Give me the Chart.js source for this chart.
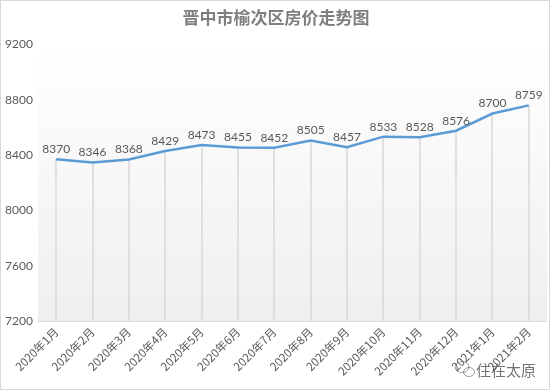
<!DOCTYPE html>
<html>
<head>
<meta charset="utf-8">
<script src="https://cdn.jsdelivr.net/npm/chart.js@4/dist/chart.umd.min.js"></script>
<style>
  html, body { margin: 0; padding: 0; background: #fff; }
  #wrap { width: 550px; height: 390px; position: relative; }
</style>
</head>
<body>
<div id="wrap"><canvas id="myChart"></canvas></div>
<script>
var labels = [
    "2020年1月", "2020年2月", "2020年3月", "2020年4月", "2020年5月",
    "2020年6月", "2020年7月", "2020年8月", "2020年9月", "2020年10月",
    "2020年11月", "2020年12月", "2021年1月", "2021年2月"
]
var prices = [8370, 8346, 8368, 8429, 8473, 8455, 8452, 8505, 8457, 8533, 8528, 8576, 8700, 8759]
var yTicks = [7200, 7600, 8000, 8400, 8800, 9200]

var textGray = "#595959"

// gradient plot background + drop lines from each point to the axis
var plotDecor = {
    id: 'plotDecor',
    beforeDatasetsDraw: function(chart) {
        var ctx = chart.ctx, a = chart.chartArea
        ctx.save()
        var g = ctx.createLinearGradient(0, a.top, 0, a.bottom)
        g.addColorStop(0, "#ffffff")
        g.addColorStop(1, "#efefef")
        ctx.fillStyle = g
        ctx.fillRect(a.left, a.top, a.right - a.left, a.bottom - a.top)
        ctx.strokeStyle = "#d9d9d9"
        ctx.lineWidth = 1.5
        chart.getDatasetMeta(0).data.forEach(function(pt) {
            var x = Math.round(pt.x)
            ctx.beginPath()
            ctx.moveTo(x, pt.y)
            ctx.lineTo(x, a.bottom)
            ctx.stroke()
        })
        ctx.lineWidth = 1
        ctx.beginPath()
        ctx.moveTo(a.left, a.bottom + 0.5)
        ctx.lineTo(a.right, a.bottom + 0.5)
        ctx.stroke()
        ctx.restore()
    },
    afterDraw: function(chart) {
        var ctx = chart.ctx
        ctx.save()
        // value labels above points
        ctx.fillStyle = textGray
        ctx.font = "12px Lato, 'Noto Sans', sans-serif"
        ctx.textAlign = "center"
        ctx.textBaseline = "bottom"
        chart.getDatasetMeta(0).data.forEach(function(pt, i) {
            ctx.fillText(String(prices[i]), pt.x, pt.y - 4)
        })
        // watermark
        ctx.fillStyle = "rgba(70,70,70,0.75)"
        ctx.font = "15px 'Noto Sans CJK SC', sans-serif"
        ctx.textAlign = "left"
        ctx.textBaseline = "middle"
        ctx.fillText("住在太原", 476, 370)
        ctx.strokeStyle = "rgba(90,90,90,0.6)"
        ctx.lineWidth = 1
        ctx.beginPath()
        ctx.ellipse(462, 367, 7, 5.5, 0, 0, Math.PI * 2)
        ctx.stroke()
        ctx.beginPath()
        ctx.ellipse(469, 372, 5.5, 4.5, 0, 0, Math.PI * 2)
        ctx.stroke()
        // frame
        ctx.strokeStyle = "#d9d9d9"
        ctx.strokeRect(0.5, 0.5, 549, 389)
        ctx.restore()
    }
}

document.addEventListener('DOMContentLoaded', function() {
    var ctx = document.getElementById("myChart").getContext('2d')
    var myChart = new Chart(ctx, {
        type: 'line',
        data: {
            labels: labels,
            datasets: [{
                data: prices,
                borderColor: "#5b9bd5",
                borderWidth: 2.5,
                pointRadius: 0,
                tension: 0,
                fill: false
            }]
        },
        options: {
            responsive: true,
            maintainAspectRatio: false,
            animation: false,
            layout: { padding: { left: 5, right: 3, top: 0, bottom: 3 } },
            plugins: {
                legend: { display: false },
                tooltip: { enabled: false },
                title: {
                    display: true,
                    text: "晋中市榆次区房价走势图",
                    color: "#7f7f7f",
                    font: { family: "'Noto Sans CJK SC', serif", size: 17, weight: 'bold' },
                    padding: { top: 7, bottom: 17 }
                }
            },
            scales: {
                x: {
                    offset: true,
                    grid: { display: false, drawTicks: false },
                    border: { display: false },
                    ticks: {
                        color: textGray,
                        font: { family: "'Noto Sans CJK SC', sans-serif", size: 11.5 },
                        minRotation: 45,
                        maxRotation: 45,
                        autoSkip: false,
                        padding: 4
                    },
                    afterFit: function(s) { s.height = 66 }
                },
                y: {
                    min: yTicks[0],
                    max: yTicks[yTicks.length - 1],
                    grid: { display: false, drawTicks: false },
                    border: { display: false },
                    afterBuildTicks: function(s) {
                        s.ticks = yTicks.map(function(v) { return { value: v } })
                    },
                    ticks: {
                        color: textGray,
                        font: { family: "Lato, 'Noto Sans', sans-serif", size: 12 },
                        crossAlign: 'far',
                        padding: 4,
                        callback: function(v) { return String(v) }
                    },
                    afterFit: function(s) { s.width = 33 }
                }
            }
        },
        plugins: [plotDecor]
    })
})
</script>
</body>
</html>
